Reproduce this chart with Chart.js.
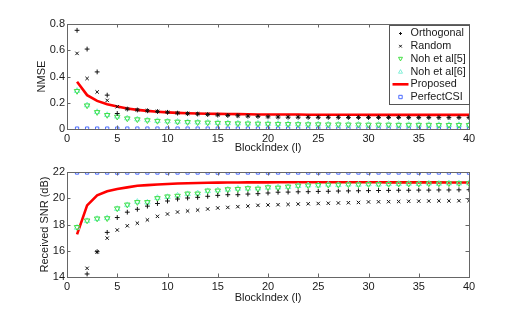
<!DOCTYPE html>
<html>
<head>
<meta charset="utf-8">
<script src="https://cdn.jsdelivr.net/npm/chart.js@4/dist/chart.umd.min.js"></script>
<style>
html,body{margin:0;padding:0;background:#fff;}
#wrap{position:relative;width:518px;height:312px;overflow:hidden;}
canvas{position:absolute;left:0;}
#c1{top:0;}
#c2{top:152px;}
</style>
</head>
<body>
<div id="wrap">
<canvas id="c1" width="518" height="158"></canvas>
<canvas id="c2" width="518" height="160"></canvas>
</div>
<script>
// ---------- data ----------
const blockIndex = [1,2,3,4,5,6,7,8,9,10,11,12,13,14,15,16,17,18,19,20,21,22,23,24,25,26,27,28,29,30,31,32,33,34,35,36,37,38,39,40];
const seriesNames = ["Orthogonal","Random","Noh et al[5]","Noh et al[6]","Proposed","PerfectCSI"];

const nmseOrthogonal = [0.752,0.609,0.435,0.258,0.118,0.152,0.145,0.139,0.133,0.127,0.121,0.117,0.114,0.110,0.106,0.103,0.101,0.098,0.096,0.093,0.091,0.090,0.090,0.089,0.089,0.089,0.089,0.088,0.088,0.088,0.088,0.088,0.088,0.087,0.087,0.087,0.087,0.087,0.087,0.087];
const nmseRandom = [0.576,0.385,0.282,0.218,0.170,0.153,0.146,0.140,0.134,0.128,0.122,0.118,0.115,0.111,0.107,0.104,0.102,0.099,0.097,0.094,0.092,0.091,0.091,0.090,0.090,0.090,0.090,0.089,0.089,0.089,0.089,0.089,0.089,0.088,0.088,0.088,0.088,0.088,0.088,0.088];
const nmseNoh5 = [0.289,0.179,0.128,0.106,0.093,0.080,0.073,0.066,0.061,0.058,0.055,0.052,0.050,0.048,0.046,0.044,0.042,0.041,0.040,0.039,0.038,0.037,0.036,0.035,0.035,0.034,0.034,0.033,0.033,0.032,0.032,0.032,0.031,0.031,0.031,0.031,0.030,0.030,0.030,0.030];
const nmseNoh6 = [0.291,0.181,0.130,0.107,0.095,0.082,0.074,0.068,0.062,0.059,0.056,0.053,0.051,0.049,0.047,0.045,0.043,0.042,0.041,0.040,0.039,0.038,0.037,0.036,0.036,0.035,0.035,0.034,0.034,0.033,0.033,0.033,0.032,0.032,0.032,0.032,0.031,0.031,0.031,0.031];
const nmseProposed = [0.360,0.258,0.214,0.189,0.171,0.156,0.146,0.138,0.132,0.127,0.123,0.120,0.118,0.116,0.115,0.114,0.113,0.112,0.111,0.111,0.110,0.110,0.110,0.109,0.109,0.109,0.109,0.109,0.108,0.108,0.108,0.108,0.108,0.108,0.108,0.108,0.108,0.108,0.108,0.108];
const nmsePerfect = [0.003,0.003,0.003,0.003,0.003,0.003,0.003,0.003,0.003,0.003,0.003,0.003,0.003,0.003,0.003,0.003,0.003,0.003,0.003,0.003,0.003,0.003,0.003,0.003,0.003,0.003,0.003,0.003,0.003,0.003,0.003,0.003,0.003,0.003,0.003,0.003,0.003,0.003,0.003,0.003];

const snrOrthogonal = [13.0,14.23,15.93,17.40,18.53,18.94,19.16,19.40,19.60,19.79,19.94,20.02,20.07,20.15,20.22,20.27,20.27,20.32,20.35,20.40,20.46,20.47,20.49,20.50,20.52,20.53,20.55,20.56,20.57,20.58,20.59,20.60,20.61,20.61,20.62,20.62,20.63,20.63,20.64,20.65];
const snrRandom = [12.5,14.66,15.91,16.96,17.58,17.90,18.10,18.35,18.62,18.80,18.95,19.03,19.10,19.18,19.26,19.30,19.36,19.40,19.46,19.49,19.51,19.53,19.56,19.58,19.60,19.62,19.64,19.66,19.68,19.72,19.73,19.74,19.75,19.77,19.78,19.79,19.80,19.80,19.81,19.82];
const snrNoh5 = [17.80,18.30,18.45,18.47,19.22,19.51,19.70,19.70,20.00,20.13,20.18,20.35,20.35,20.58,20.58,20.68,20.70,20.76,20.72,20.83,20.80,20.88,20.96,20.97,21.00,21.02,21.03,21.05,21.05,21.07,21.07,21.08,21.10,21.10,21.10,21.12,21.12,21.13,21.14,21.14];
const snrNoh6 = [17.76,18.27,18.43,18.49,19.19,19.48,19.73,19.68,20.03,20.10,20.21,20.32,20.38,20.55,20.61,20.66,20.73,20.74,20.75,20.81,20.83,20.86,20.94,20.99,20.98,21.04,21.01,21.06,21.04,21.08,21.06,21.09,21.09,21.11,21.09,21.13,21.11,21.14,21.13,21.15];
const snrProposed = [17.25,19.46,20.22,20.53,20.70,20.83,20.95,21.00,21.05,21.09,21.12,21.14,21.16,21.18,21.19,21.20,21.20,21.21,21.21,21.21,21.22,21.22,21.22,21.22,21.22,21.22,21.22,21.22,21.22,21.22,21.22,21.21,21.21,21.21,21.21,21.21,21.21,21.20,21.20,21.20];
const snrPerfect = [21.96,21.96,21.96,21.96,21.95,21.96,21.96,21.96,21.96,21.95,21.96,21.96,21.96,21.96,21.95,21.96,21.96,21.96,21.96,21.95,21.96,21.96,21.96,21.96,21.95,21.96,21.96,21.96,21.96,21.95,21.96,21.96,21.96,21.96,21.95,21.96,21.96,21.96,21.96,21.95];

const xTicksStep = 5;
const nmseTicks = [0, 0.2, 0.4, 0.6, 0.8];
const snrTicks = [14, 16, 18, 20, 22];

// ---------- styles ----------
const FONT = "'Liberation Sans', Arial, Helvetica, sans-serif";
const TEXT = '#1a1a1a';
const AXIS = '#666666';

function pts(vals){ return blockIndex.map((x,i)=>({x:x,y:vals[i]})); }

function makeDatasets(o,r,n5,n6,p,pc){
  return [
    {label:seriesNames[0], data:pts(o), showLine:false, pointStyle:'cross', pointRadius:2.4, borderColor:'#111', borderWidth:1, backgroundColor:'#111'},
    {label:seriesNames[1], data:pts(r), showLine:false, pointStyle:'crossRot', pointRadius:2.4, borderColor:'#111', borderWidth:1, backgroundColor:'#111'},
    {label:seriesNames[2], data:pts(n5), showLine:false, pointStyle:'triangle', rotation:180, pointRadius:3.2, borderColor:'#44e044', borderWidth:1, backgroundColor:'rgba(0,0,0,0)'},
    {label:seriesNames[3], data:pts(n6), showLine:false, pointStyle:'triangle', pointRadius:3.2, borderColor:'#80f0d8', borderWidth:1, backgroundColor:'rgba(0,0,0,0)'},
    {label:seriesNames[4], data:pts(p), showLine:true, pointRadius:0, borderColor:'#ff0000', borderWidth:2.6, backgroundColor:'#ff0000', tension:0},
    {label:seriesNames[5], data:pts(pc), showLine:false, pointStyle:'rect', pointRadius:2.3, borderColor:'#4a6aff', borderWidth:1, backgroundColor:'rgba(0,0,0,0)'}
  ];
}

function drawMarker(ctx, ds, x, y){
  ctx.save();
  ctx.strokeStyle = ds.borderColor; ctx.lineWidth = ds.showLine ? ds.borderWidth : 1;
  const r = 2;
  ctx.beginPath();
  if (ds.showLine){
    ctx.moveTo(x-8,y); ctx.lineTo(x+8,y);
  } else if (ds.pointStyle==='cross'){
    ctx.moveTo(x-1.5,y); ctx.lineTo(x+1.5,y); ctx.moveTo(x,y-1.5); ctx.lineTo(x,y+1.5);
  } else if (ds.pointStyle==='crossRot'){
    ctx.moveTo(x-1.3,y-1.3); ctx.lineTo(x+1.3,y+1.3); ctx.moveTo(x-1.3,y+1.3); ctx.lineTo(x+1.3,y-1.3);
  } else if (ds.pointStyle==='triangle'){
    if (ds.rotation===180){ ctx.moveTo(x-r,y-r*0.8); ctx.lineTo(x+r,y-r*0.8); ctx.lineTo(x,y+r); ctx.closePath(); }
    else { ctx.moveTo(x-r,y+r*0.8); ctx.lineTo(x+r,y+r*0.8); ctx.lineTo(x,y-r); ctx.closePath(); }
  } else if (ds.pointStyle==='rect'){
    ctx.rect(x-1.7,y-1.7,3.4,3.4);
  }
  ctx.stroke();
  ctx.restore();
}

const frame = {
  id:'frame',
  afterDraw(chart, args, opts){
    const {ctx, chartArea:a, scales} = chart;
    ctx.save();
    ctx.strokeStyle = AXIS; ctx.lineWidth = 1;
    ctx.strokeRect(Math.round(a.left)+0.5, Math.round(a.top)+0.5, Math.round(a.right-a.left), Math.round(a.bottom-a.top));
    const tl = 3.5;
    ctx.beginPath();
    scales.x.ticks.forEach(t=>{
      const px = Math.round(scales.x.getPixelForValue(t.value))+0.5;
      ctx.moveTo(px, a.bottom); ctx.lineTo(px, a.bottom-tl);
      ctx.moveTo(px, a.top); ctx.lineTo(px, a.top+tl);
    });
    scales.y.ticks.forEach(t=>{
      const py = Math.round(scales.y.getPixelForValue(t.value))+0.5;
      ctx.moveTo(a.left, py); ctx.lineTo(a.left+tl, py);
      ctx.moveTo(a.right, py); ctx.lineTo(a.right-tl, py);
    });
    ctx.stroke();
    if (opts && opts.legend){
      const w = 80, h = 79;
      const lx = Math.round(a.right) - w + 0.5, ly = Math.round(a.top) + 1.5;
      ctx.fillStyle = '#fff';
      ctx.fillRect(lx, ly, w, h);
      ctx.strokeStyle = '#555';
      ctx.strokeRect(lx, ly, w, h);
      ctx.font = '10.8px ' + FONT;
      ctx.fillStyle = TEXT;
      ctx.textBaseline = 'middle';
      ctx.textAlign = 'left';
      chart.data.datasets.forEach((ds,i)=>{
        const cy = ly + 8 + i*12.7;
        drawMarker(ctx, ds, lx + 11, cy);
        ctx.fillStyle = TEXT;
        ctx.fillText(ds.label, lx + 21, cy);
      });
    }
    ctx.restore();
  }
};

function makeChart(id, datasets, yMin, yMax, yStep, yTitle, yTitlePad, padTop, xAxisH, titleBottomPad, legend){
  return new Chart(document.getElementById(id), {
    type:'scatter',
    data:{datasets:datasets},
    options:{
      responsive:false, animation:false, devicePixelRatio:1,
      layout:{padding:{top:padTop, right:49, left:0, bottom:0}},
      plugins:{legend:{display:false}, tooltip:{enabled:false}, frame:{legend:legend}},
      scales:{
        x:{
          type:'linear', min:0, max:40,
          ticks:{stepSize:xTicksStep, color:TEXT, font:{family:FONT, size:11}, padding:3, maxRotation:0},
          grid:{display:false, drawTicks:false},
          border:{display:false},
          title:{display:true, text:'BlockIndex (l)', color:TEXT, font:{family:FONT, size:11}, padding:{top:0,bottom:titleBottomPad}},
          afterFit(s){ s.height = xAxisH; }
        },
        y:{
          min:yMin, max:yMax,
          ticks:{stepSize:yStep, color:TEXT, font:{family:FONT, size:11}, padding:2},
          grid:{display:false, drawTicks:false},
          border:{display:false},
          title:{display:true, text:yTitle, color:TEXT, font:{family:FONT, size:11}, padding:{top:yTitlePad,bottom:0}},
          afterFit(s){ s.width = 67; }
        }
      }
    },
    plugins:[frame]
  });
}

makeChart('c1', makeDatasets(nmseOrthogonal,nmseRandom,nmseNoh5,nmseNoh6,nmseProposed,nmsePerfect),
  nmseTicks[0], nmseTicks[nmseTicks.length-1], nmseTicks[1]-nmseTicks[0], 'NMSE', 35.4, 24, 29, 3.4, true);
makeChart('c2', makeDatasets(snrOrthogonal,snrRandom,snrNoh5,snrNoh6,snrProposed,snrPerfect),
  snrTicks[0], snrTicks[snrTicks.length-1], snrTicks[1]-snrTicks[0], 'Received SNR (dB)', 38, 20, 35, 7.4, false);
</script>
</body>
</html>
